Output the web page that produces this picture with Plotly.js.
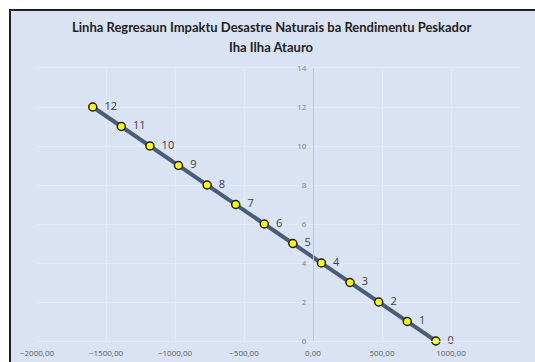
<!DOCTYPE html>
<html>
<head>
<meta charset="utf-8">
<script src="https://cdn.plot.ly/plotly-3.0.1.min.js"></script>
<style>
  html, body { margin: 0; padding: 0; background: #ffffff; width: 535px; height: 362px; overflow: hidden; }
  #frame { position: absolute; left: 9px; top: 9px; width: 540px; height: 370px; background: #dae3f3;
           border-left: 2px solid #1f1f1f; border-top: 2px solid #1f1f1f; }
  #chart { position: absolute; left: 0; top: 0; width: 524px; height: 351px; }
</style>
</head>
<body>
<div id="frame"><div id="chart"></div></div>
<script>
// Data
const xValues = [890, 683, 476, 268, 61, -146, -353, -560, -767, -975, -1182, -1389, -1596];
const yValues = [0, 1, 2, 3, 4, 5, 6, 7, 8, 9, 10, 11, 12];
const pointLabels = ['0', '1', '2', '3', '4', '5', '6', '7', '8', '9', '10', '11', '12'];
const titleLines = ['Linha Regresaun Impaktu Desastre Naturais ba Rendimentu Peskador', 'Iha Ilha Atauro'];
const xRange = [-2000, 1500];
const yRange = [0, 14];

const trace = {
  x: xValues,
  y: yValues,
  text: pointLabels,
  texttemplate: '  %{text}',
  type: 'scatter',
  mode: 'lines+markers+text',
  textposition: 'middle right',
  textfont: { family: 'Open Sans, sans-serif', size: 11, color: '#404040' },
  line: { color: '#4a5d78', width: 4 },
  marker: { color: '#ffff00', size: 8, line: { color: '#1a1a1a', width: 1.5 } },
  cliponaxis: false,
  hoverinfo: 'none'
};

const titleFont = { family: 'Lato, sans-serif', size: 13, color: '#1f1f1f' };

const layout = {
  width: 524,
  height: 351,
  margin: { l: 26, r: 15, t: 57, b: 21 },
  paper_bgcolor: '#dae3f3',
  plot_bgcolor: '#dae3f3',
  separators: ',.',
  showlegend: false,
  annotations: [
    { text: '<b>' + titleLines[0] + '</b>', xref: 'paper', yref: 'paper', x: 0.5, y: 1,
      xanchor: 'center', yanchor: 'middle', xshift: -7, yshift: 41, showarrow: false, font: titleFont },
    { text: '<b>' + titleLines[1] + '</b>', xref: 'paper', yref: 'paper', x: 0.5, y: 1,
      xanchor: 'center', yanchor: 'middle', xshift: -7, yshift: 21, showarrow: false, font: titleFont }
  ],
  xaxis: {
    range: xRange,
    dtick: 500,
    tick0: 0,
    tickformat: '.2f',
    showgrid: true,
    gridcolor: '#e5ebf6',
    gridwidth: 1,
    zeroline: false,
    showline: true,
    linecolor: '#e5ebf6',
    mirror: true,
    ticks: '',
    ticklabelstandoff: 4,
    tickfont: { family: 'Open Sans, sans-serif', size: 8, color: '#595959' },
    fixedrange: true
  },
  yaxis: {
    range: yRange,
    dtick: 2,
    tick0: 0,
    anchor: 'free',
    position: (0 - xRange[0]) / (xRange[1] - xRange[0]),
    showgrid: true,
    gridcolor: '#e5ebf6',
    zeroline: false,
    showline: true,
    linecolor: '#bfc7d5',
    linewidth: 1,
    ticks: '',
    ticklabelstandoff: 5,
    tickfont: { family: 'Open Sans, sans-serif', size: 8, color: '#7f7f7f' },
    fixedrange: true
  }
};

Plotly.newPlot('chart', [trace], layout, { displayModeBar: false, staticPlot: true });
</script>
</body>
</html>
